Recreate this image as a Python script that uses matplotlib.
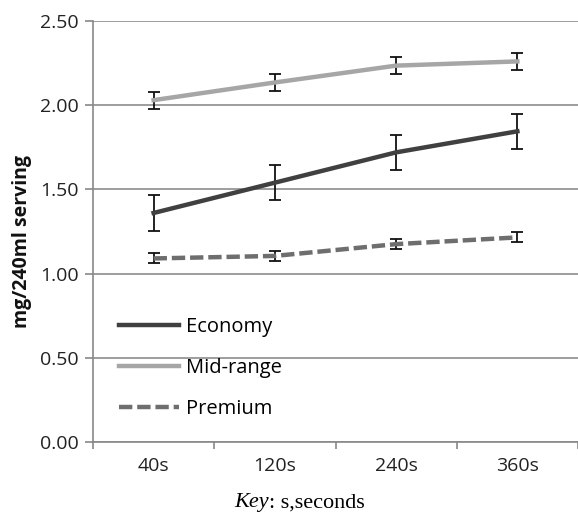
import numpy as np
import matplotlib.pyplot as plt

plt.rcParams['font.family'] = ['Open Sans', 'DejaVu Sans']

times = ['40s', '120s', '240s', '360s']
economy = [1.36, 1.54, 1.72, 1.845]
economy_err = [0.105, 0.105, 0.105, 0.105]
midrange = [2.03, 2.135, 2.235, 2.26]
midrange_err = [0.05, 0.05, 0.05, 0.05]
premium = [1.09, 1.105, 1.175, 1.215]
premium_err = [0.03, 0.03, 0.03, 0.03]

fig = plt.figure(figsize=(5.78, 5.17), dpi=100)
ax = fig.add_axes([93/578, 1 - 442/517, 1 - 93/578, (442 - 21)/517])

x = np.arange(len(times))
ebar = dict(ecolor='#111111', elinewidth=1.3, capsize=4, capthick=1.3)
ax.errorbar(x, economy, yerr=economy_err, color='#404040', lw=3.2,
            label='Economy', **ebar)
ax.errorbar(x, midrange, yerr=midrange_err, color='#a6a6a6', lw=3.2,
            label='Mid-range', **ebar)
ax.errorbar(x, premium, yerr=premium_err, color='#6e6e6e', lw=3.2, ls=(0, (3, 1.1)),
            label='Premium', **ebar)

ax.set_ylim(0, 2.5)
ax.set_xlim(-0.5, 3.48)
ax.set_yticks(np.arange(0, 2.51, 0.5))
ax.set_yticklabels(['%.2f' % v for v in np.arange(0, 2.51, 0.5)])
ax.set_xticks(x)
ax.set_xticklabels(times)
ax.set_xticks(np.arange(-0.5, 4, 1), minor=True)
ax.tick_params(axis='x', which='major', length=0, pad=11, labelsize=14, colors='#222222')
ax.tick_params(axis='x', which='minor', length=5, color='#888888', width=1.2)
ax.tick_params(axis='y', length=6, color='#888888', width=1.2, pad=4,
               labelsize=14, labelcolor='#222222')
ax.yaxis.grid(True, color='#8c8c8c', lw=1.2)
ax.set_axisbelow(True)
for s in ['top', 'right']:
    ax.spines[s].set_visible(False)
for s in ['left', 'bottom']:
    ax.spines[s].set_color('#888888')
    ax.spines[s].set_linewidth(1.2)

fig.text(22/578, 1 - 241/517, 'mg/240ml serving', rotation=90, ha='center', va='center',
         fontsize=14, fontweight='bold', color='#111111')

h, l = ax.get_legend_handles_labels()
h = [hh[0] for hh in h]
leg = ax.legend(h, l, loc='lower left', bbox_to_anchor=(18/485, 15/421), frameon=False,
                fontsize=14.5, handlelength=3.0, handletextpad=0.3, labelspacing=1.05,
                borderaxespad=0)

fig.text(269/578, 1 - 503/517, 'Key', ha='right', va='center', fontsize=16,
         family='Liberation Serif', style='italic')
fig.text(269/578, 1 - 503/517, ': s,seconds', ha='left', va='center', fontsize=16,
         family='Liberation Serif')

fig.savefig('out.png', dpi=100)
